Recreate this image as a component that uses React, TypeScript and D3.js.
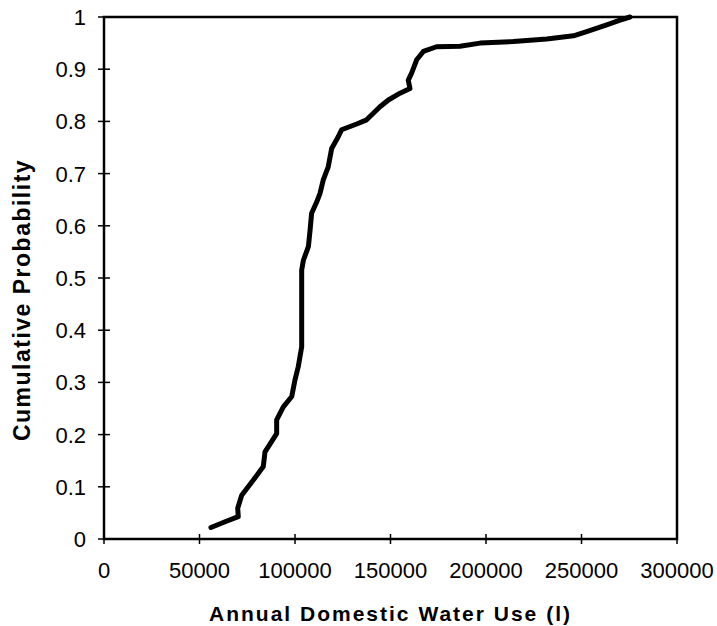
import React from "react";
import * as d3 from "d3";

const waterUse = [
  56000, 63400, 70300, 70000, 72100, 78200, 83400, 84300, 90400, 90400, 93900, 98300,
  100000, 101700, 103500, 103500, 104400, 107000, 107900, 108700, 111400, 113100, 114800,
  117400, 119200, 122700, 124400, 132300, 137500, 144500, 148900, 155000, 160200, 159300,
  161000, 163700, 167200, 174100, 186400, 196900, 214300, 231800, 245800, 252700, 263200,
  270200, 275400,
];
const cumProb = [
  0.022, 0.033, 0.043, 0.059, 0.084, 0.113, 0.139, 0.167, 0.202, 0.228, 0.253, 0.273,
  0.305, 0.33, 0.368, 0.515, 0.534, 0.56, 0.592, 0.624, 0.646, 0.662, 0.688,
  0.713, 0.748, 0.771, 0.784, 0.795, 0.803, 0.828, 0.841, 0.854, 0.863, 0.879,
  0.892, 0.918, 0.934, 0.943, 0.944, 0.95, 0.953, 0.958, 0.964, 0.972, 0.985,
  0.994, 1.0,
];
const xTicks = [0, 50000, 100000, 150000, 200000, 250000, 300000];
const yTicks = [0, 0.1, 0.2, 0.3, 0.4, 0.5, 0.6, 0.7, 0.8, 0.9, 1];
const xTitle = "Annual Domestic Water Use (l)";
const yTitle = "Cumulative Probability";

const W = 717;
const H = 626;
const left = 104;
const right = 677;
const top = 17;
const bottom = 539;
const font = "'Liberation Sans', Arial, Helvetica, sans-serif";

export default function App() {
  const x = d3.scaleLinear().domain([0, 300000]).range([left, right]);
  const y = d3.scaleLinear().domain([0, 1]).range([bottom, top]);
  const pts: [number, number][] = waterUse.map((v, i) => [v, cumProb[i]]);
  const line = d3
    .line<[number, number]>()
    .x((d) => x(d[0]))
    .y((d) => y(d[1]));

  return (
    <svg
      width={W}
      height={H}
      style={{ position: "absolute", left: 0, top: 0, background: "#fff" }}
      fontFamily={font}
    >
      <rect x={0} y={0} width={W} height={H} fill="#fff" />
      <rect
        x={left}
        y={top}
        width={right - left}
        height={bottom - top}
        fill="none"
        stroke="#000"
        strokeWidth={2.5}
      />
      {yTicks.map((t) => (
        <g key={"y" + t}>
          <line x1={left - 6} x2={left + 6} y1={y(t)} y2={y(t)} stroke="#000" strokeWidth={1.5} />
          <text x={86} y={y(t)} dy="0.36em" textAnchor="end" fontSize={22} fill="#000">
            {String(t)}
          </text>
        </g>
      ))}
      {xTicks.map((t) => (
        <g key={"x" + t}>
          <line x1={x(t)} x2={x(t)} y1={bottom - 5} y2={bottom + 5} stroke="#000" strokeWidth={1.5} />
          <text x={x(t)} y={578} textAnchor="middle" fontSize={22} fill="#000">
            {String(t)}
          </text>
        </g>
      ))}
      <path
        d={line(pts) || ""}
        fill="none"
        stroke="#000"
        strokeWidth={5}
        strokeLinejoin="round"
        strokeLinecap="round"
      />
      <text
        x={(left + right) / 2}
        y={621}
        textAnchor="middle"
        fontSize={21}
        fontWeight="bold"
        letterSpacing={2}
        fill="#000"
      >
        {xTitle}
      </text>
      <text
        transform={`translate(${30},${300}) rotate(-90)`}
        textAnchor="middle"
        fontSize={23}
        fontWeight="bold"
        letterSpacing={1.5}
        fill="#000"
      >
        {yTitle}
      </text>
    </svg>
  );
}
